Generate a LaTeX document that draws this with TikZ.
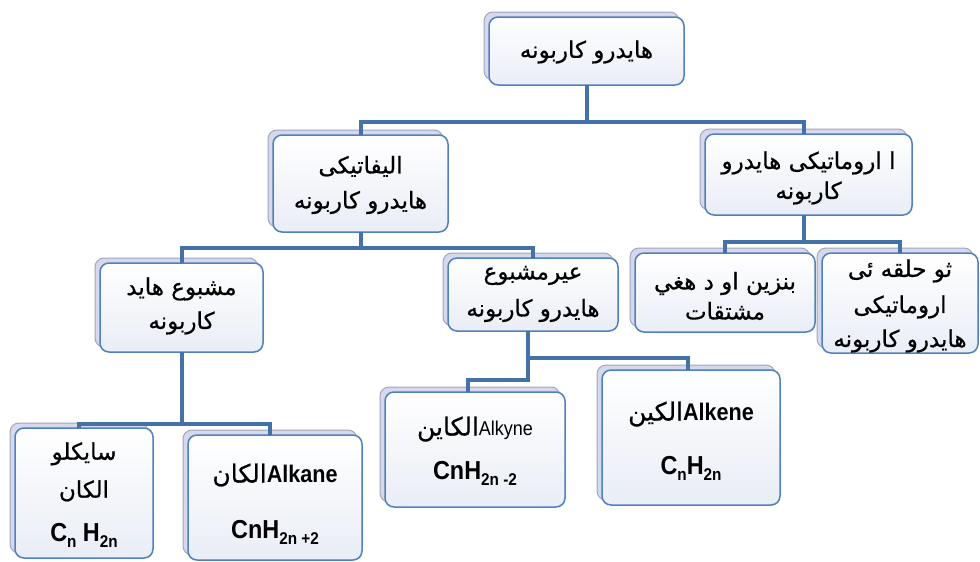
\documentclass[tikz,border=0pt]{standalone}
\usepackage{fontspec}
\setmainfont{Liberation Sans}
\newfontfamily\arabicfont[Script=Arabic,FakeBold=0.6]{DejaVu Sans}
\newfontfamily\narrowfont[FakeStretch=0.9]{Liberation Sans}
\TeXXeTstate=1
\usetikzlibrary{calc}
\definecolor{conncol}{HTML}{4472A8}
\definecolor{boxborder}{HTML}{4F81BD}
\definecolor{backfill}{HTML}{D6D9EE}
\definecolor{backborder}{HTML}{A3A6B8}
\definecolor{frontbottom}{HTML}{E9EDF6}
\newcommand\AR[1]{{\arabicfont\fontsize{23}{34}\selectfont\beginR #1\endR}}
\newcommand\ARB[1]{{\arabicfont\fontsize{25}{34}\selectfont\beginR #1\endR}}
\newcommand\LB[1]{{\narrowfont\fontsize{24}{26}\selectfont\bfseries #1}}
\newcommand\LR[1]{{\narrowfont\fontsize{20}{26}\selectfont #1}}
\newcommand\FM[1]{{\narrowfont\fontsize{26}{28}\selectfont\bfseries #1}}
\newcommand\SB[1]{\raisebox{-6pt}{\narrowfont\fontsize{17}{18}\selectfont\bfseries #1}}
\newcommand\drawbox[7]{%
  \path[backbox] (#2-5,#3-5) rectangle (#4-5,#5-5);
  \node[frontbox, minimum width=#4-#2, minimum height=#5-#3] (#1) at ({(#2+#4)/2},{(#3+#5)/2}) {};
  \node[boxtext] (#1-t) at ({(#2+#4)/2},#6) {#7};
}
\tikzset{
  backbox/.style={fill=backfill, draw=backborder, line width=1pt, rounded corners=9pt},
  frontbox/.style={draw=boxborder, line width=1.5pt, rounded corners=9pt,
    top color=white, bottom color=frontbottom, inner sep=0pt, outer sep=0pt},
  boxtext/.style={align=center, inner sep=0pt, font=\fontsize{23}{34}\selectfont},
  conn/.style={draw=conncol, line width=4pt},
}
\begin{document}
\begin{tikzpicture}[x=1pt,y=-1pt]
\useasboundingbox (0,0) rectangle (980,562);
\fill[white] (0,0) rectangle (980,562);
\drawbox{top}{489}{17}{684}{85}{52}{\AR{هایدرو کاربونه}}
\drawbox{aliph}{273}{135}{448}{232}{185}{\AR{الیفاتیکی}\\[1pt]\AR{هایدرو کاربونه}}
\drawbox{arom}{705}{134}{912}{215}{178}{\AR{ا اروماتیکی هایدرو}\\[-4pt]\AR{کاربونه}}
\drawbox{sat}{100}{263}{263}{352}{306}{\AR{مشبوع هاید}\\[0pt]\AR{کاربونه}}
\drawbox{unsat}{448}{258}{618}{331}{294}{\AR{عیرمشبوع}\\[3pt]\AR{هایدرو کاربونه}}
\drawbox{benz}{635}{253}{815}{332}{296}{\AR{بنزین او د هغي}\\[-4pt]\AR{مشتقات}}
\drawbox{poly}{822}{253}{978}{353}{306}{\AR{ثو حلقه ئی}\\[2pt]\AR{اروماتیکی}\\[0pt]\AR{هایدرو کاربونه}}
\drawbox{cyclo}{15}{428}{153}{558}{495}{\AR{سایکلو}\\[4pt]\AR{الکان}\\[10pt]\FM{C\SB{n} H\SB{2n}}}
\drawbox{alkane}{188}{435}{362}{560}{504}{\ARB{الکان}\LB{Alkane}\\[22pt]\FM{CnH\SB{2n +2}}}
\drawbox{alkyne}{385}{392}{565}{507}{451}{\ARB{الکاین}\LR{Alkyne}\\[10pt]\FM{CnH\SB{2n -2}}}
\drawbox{alkene}{602}{370}{780}{505}{441}{\ARB{الکین}\LB{Alkene}\\[20pt]\FM{C\SB{n}H\SB{2n}}}
\draw[conn] (top.south) -- ++(0,37) coordinate (j1) -| (aliph.north);
\draw[conn] (j1) -| ([xshift=-5pt]arom.north);
\draw[conn] (aliph.south) -- ++(0,16) coordinate (j2) -| (sat.north);
\draw[conn] (j2) -| (unsat.north);
\draw[conn] ([xshift=-5pt]arom.south) -- ++(0,27) coordinate (j3) -| (benz.north);
\draw[conn] (j3) -| (poly.north);
\draw[conn] (sat.south) -- ++(0,72) coordinate (j4) -| ([xshift=-5pt]cyclo.north);
\draw[conn] (j4) -| ([xshift=-5pt]alkane.north);
\draw[conn] ([xshift=-5pt]unsat.south) -- ++(0,27) coordinate (j5) -| ([xshift=-3pt]alkene.north);
\draw[conn] (j5) -- ++(0,22) coordinate (j6) -| ([xshift=-7pt]alkyne.north);
\end{tikzpicture}
\end{document}
